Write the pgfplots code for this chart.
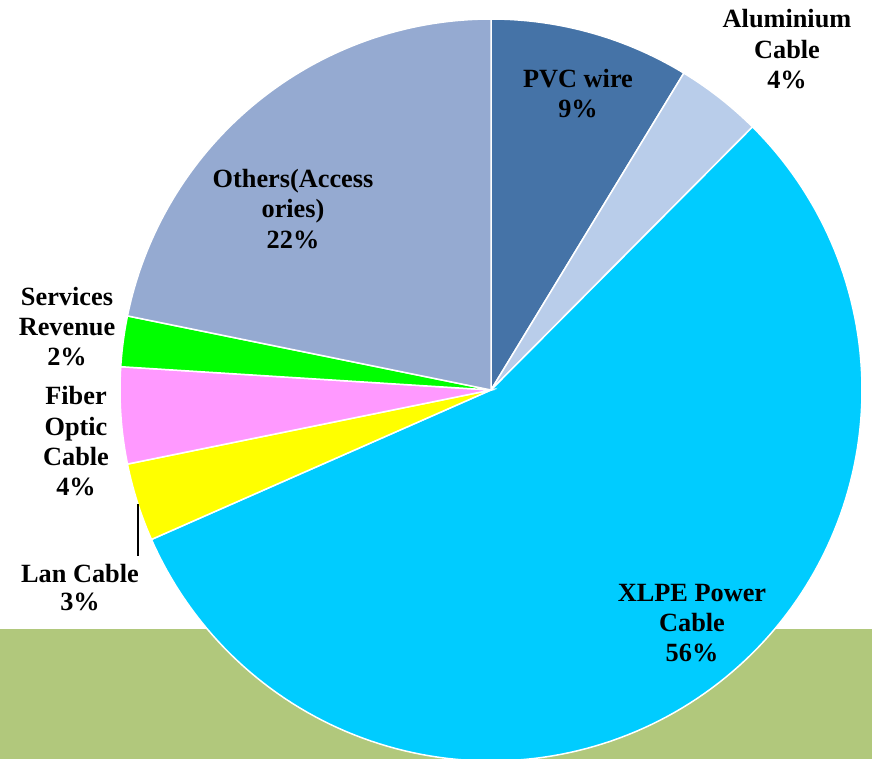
\documentclass[border=0pt]{standalone}
\usepackage{pgfplots}
\pgfplotsset{compat=1.18}
\usepackage{fontspec}
\setmainfont{Liberation Serif}
\definecolor{cPVC}{RGB}{69,115,167}
\definecolor{cAlu}{RGB}{185,205,234}
\definecolor{cXLPE}{RGB}{0,204,255}
\definecolor{cLan}{RGB}{255,255,0}
\definecolor{cFiber}{RGB}{255,153,255}
\definecolor{cServ}{RGB}{0,255,0}
\definecolor{cOther}{RGB}{149,170,209}
\definecolor{cBand}{RGB}{177,200,124}
\newcommand{\cum}{0}
\newcommand{\slice}[2]{%
  \pgfmathsetmacro\sa{90-3.6*\cum}%
  \pgfmathsetmacro\sb{90-3.6*(\cum+#1)}%
  \edef\doslice{\noexpand\addplot[fill=#2, draw=white, line width=1.5pt, domain=\sb:\sa, samples=150] ({491+371*cos(x)},{390-371*sin(x)}) -- (axis cs:491,390) -- cycle;}%
  \doslice
  \pgfmathsetmacro\newcum{\cum+#1}%
  \xdef\cum{\newcum}%
}
\newcommand{\lbl}[3]{\node[anchor=base, inner sep=0pt, font=\bfseries\fontsize{26.3}{30}\selectfont] at (axis cs:#1,#2) {#3};}
\begin{document}
\begin{tikzpicture}
\begin{axis}[
  width=872pt, height=759pt, scale only axis,
  xmin=0, xmax=872, ymin=0, ymax=759, y dir=reverse,
  hide axis, clip=true,
]
\fill[cBand] (axis cs:0,629) rectangle (axis cs:872,759);
% slices clockwise from 12 o'clock: value (percent), colour
\slice{8.7}{cPVC}
\slice{3.75}{cAlu}
\slice{55.95}{cXLPE}
\slice{3.4}{cLan}
\slice{4.2}{cFiber}
\slice{2.2}{cServ}
\slice{21.8}{cOther}
\draw[black, line width=1.2pt] (axis cs:138,504) -- (axis cs:138,556);
\lbl{578}{88}{PVC wire}
\lbl{578}{118}{9\%}
\lbl{787}{28}{Aluminium}
\lbl{787}{59}{Cable}
\lbl{787}{89}{4\%}
\lbl{293}{188}{Others(Access}
\lbl{293}{218}{ories)}
\lbl{293}{249}{22\%}
\lbl{692}{601}{XLPE Power}
\lbl{692}{631}{Cable}
\lbl{692}{661}{56\%}
\lbl{67}{305}{Services}
\lbl{67}{335}{Revenue}
\lbl{67}{365}{2\%}
\lbl{76}{404}{Fiber}
\lbl{76}{435}{Optic}
\lbl{76}{465}{Cable}
\lbl{76}{495}{4\%}
\lbl{80}{582}{Lan Cable}
\lbl{80}{610}{3\%}
\end{axis}
\pgfresetboundingbox
\path[use as bounding box] (current axis.south west) rectangle (current axis.north east);
\end{tikzpicture}
\end{document}
